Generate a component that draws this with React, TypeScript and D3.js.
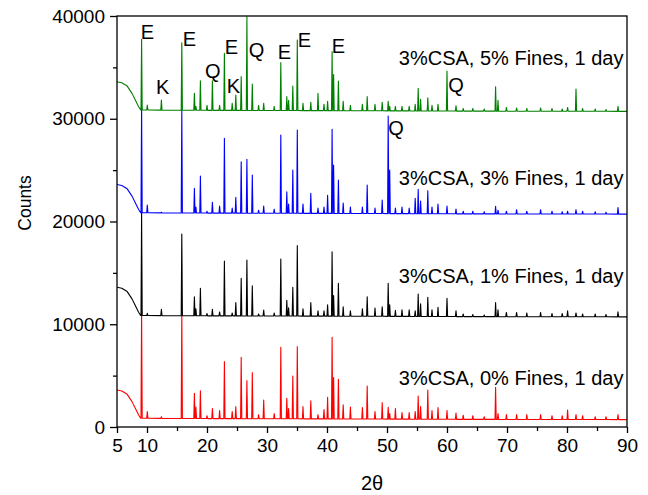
import React, { useEffect, useRef } from 'react'
import * as d3 from 'd3'

// 2θ positions of the peaks, shared by all four patterns
const peakTheta = [
    9.1, 10.05, 12.4, 15.8, 17.9, 18.15, 18.9, 20.0, 20.9, 22.1, 22.9, 24.2, 24.8, 25.7, 26.65, 27.55,
    28.6, 29.45, 31.2, 32.3, 33.3, 33.6, 34.3, 35.05, 36.0, 37.3, 38.5, 39.5, 40.1, 40.85, 41.1, 41.9,
    42.7, 43.9, 45.9, 46.7, 48.0, 49.2, 50.2, 50.45, 51.4, 52.5, 53.7, 54.7, 55.2, 55.6, 56.8, 57.5,
    58.5, 60.0, 61.5, 62.7, 64.3, 66.2, 68.1, 68.5, 69.9, 71.6, 73.3, 75.6, 77.5, 79.2, 80.1, 81.5,
    82.6, 84.7, 86.5, 88.5,
]

// peak tops (counts before the vertical offset)
const fines0 = [
    11300, 1500, 1000, 11300, 3280, 1930, 3530, 1100, 1800, 1600, 6360, 1500, 1980, 6780, 4510, 5290,
    1200, 2630, 1300, 7760, 2790, 1800, 4960, 7820, 1980, 2560, 1200, 1700, 2890, 8730, 4820, 4640,
    2170, 1950, 1900, 3990, 1500, 2370, 1920, 1300, 1800, 1400, 1400, 1500, 3020, 2000, 3600, 1600,
    1900, 1600, 1350, 1150, 1100, 1000, 3860, 1300, 1200, 1200, 1200, 1200, 1100, 1100, 1650, 1200,
    1100, 1000, 1000, 1200,
]
const fines1 = [
    10860, 1060, 1450, 8780, 2680, 1500, 3500, 1050, 1450, 1200, 6160, 1100, 2100, 4470, 6250, 3750,
    1000, 1390, 1100, 6350, 2340, 1600, 3600, 7650, 1500, 2100, 1300, 1300, 1900, 7060, 2800, 3980,
    1700, 1300, 1500, 2680, 1580, 1700, 3980, 1900, 1350, 1400, 1400, 1300, 2940, 2000, 2620, 1400,
    1650, 2520, 1300, 1000, 950, 900, 2100, 1400, 1150, 1150, 1100, 1150, 1050, 1050, 1300, 1100,
    1000, 1000, 950, 1200,
]
const fines3 = [
    11200, 1600, 900, 10900, 3230, 1400, 4430, 1000, 1870, 1500, 8100, 1300, 2350, 5820, 6050, 4530,
    1100, 1500, 1200, 8420, 2900, 1700, 5010, 8900, 1700, 2740, 1300, 1400, 2550, 8970, 5500, 4040,
    1800, 1400, 1400, 3550, 1300, 2090, 10270, 5000, 1300, 1400, 1300, 2250, 3130, 2000, 3000, 1400,
    1700, 1500, 1200, 1000, 1000, 950, 1470, 1100, 1000, 1150, 1000, 1150, 1000, 950, 1000, 1150,
    1000, 950, 900, 1350,
]
const fines5 = [
    7730, 1340, 1820, 7400, 2480, 1200, 3700, 1300, 3700, 1300, 6370, 1500, 2310, 4100, 9930, 3380,
    1300, 1500, 1200, 5460, 2150, 1800, 3190, 7660, 1500, 1600, 2480, 1400, 1700, 6530, 4300, 3670,
    1700, 1300, 1400, 2150, 1400, 1600, 1700, 1200, 1200, 1200, 1200, 1400, 2960, 1900, 2050, 1300,
    1400, 4650, 1250, 1000, 1000, 950, 3120, 1800, 1100, 1050, 1000, 1050, 1000, 950, 1100, 2890,
    1000, 950, 900, 1200,
]

// background: low-angle hump then flat baseline
const bgTheta = [5, 5.8, 6.7, 7.5, 8.05, 8.6, 8.95, 20, 45, 65, 90]
const bgCounts = [3600, 3500, 3180, 2470, 1820, 1170, 850, 820, 780, 740, 720]

const seriesNames = ['3%CSA, 0% Fines, 1 day', '3%CSA, 1% Fines, 1 day', '3%CSA, 3% Fines, 1 day', '3%CSA, 5% Fines, 1 day']
const seriesPeaks = [fines0, fines1, fines3, fines5]
const seriesOffset = [0, 10000, 20000, 30000]
const seriesColor = ['#ff0000', '#000000', '#0000ff', '#008000']
const seriesLabelY = [4090, 13980, 23550, 35230]

// phase markers: letter, 2θ where the letter starts, counts at its baseline
const phaseLetter = ['E', 'K', 'E', 'Q', 'E', 'K', 'Q', 'E', 'E', 'E', 'Q', 'Q']
const phaseTheta = [8.95, 11.5, 15.95, 19.67, 22.95, 23.28, 26.95, 31.78, 35.12, 40.78, 60.22, 50.22]
const phaseCounts = [37730, 32410, 37110, 34010, 36270, 32480, 36040, 35820, 37010, 36370, 32630, 28420]

const xTickLabels = [5, 10, 20, 30, 40, 50, 60, 70, 80, 90]
const yTickLabels = [0, 10000, 20000, 30000, 40000]

export default function App() {
    const svgRef = useRef<SVGSVGElement>(null)

    useEffect(() => {
        const width = 648
        const height = 495
        const left = 117
        const right = 627
        const top = 16
        const bottom = 427
        const font = 'Arial, "Liberation Sans", sans-serif'

        const svg = d3.select(svgRef.current)
        svg.selectAll('*').remove()
        svg.attr('width', width).attr('height', height)

        const x = d3.scaleLinear().domain([5, 90]).range([left, right])
        const y = d3.scaleLinear().domain([0, 40000]).range([bottom, top])
        const bg = d3.scaleLinear().domain(bgTheta).range(bgCounts).clamp(true)

        svg.append('defs')
            .append('clipPath')
            .attr('id', 'plot-clip')
            .append('rect')
            .attr('x', left)
            .attr('y', top)
            .attr('width', right - left)
            .attr('height', bottom - top)

        const line = d3
            .line<[number, number]>()
            .x((d) => x(d[0]))
            .y((d) => y(d[1]))

        const w = 0.1
        const plot = svg.append('g').attr('clip-path', 'url(#plot-clip)')
        seriesPeaks.forEach((tops, s) => {
            const off = seriesOffset[s]
            const pts: [number, number][] = []
            bgTheta.forEach((t, i) => {
                if (t < 9) pts.push([t, bgCounts[i] + off])
            })
            peakTheta.forEach((t, i) => {
                pts.push([t - w, bg(t - w) + off])
                pts.push([t, tops[i] + off])
                pts.push([t + w, bg(t + w) + off])
            })
            pts.push([90, bg(90) + off])
            plot.append('path')
                .attr('d', line(pts))
                .attr('fill', 'none')
                .attr('stroke', seriesColor[s])
                .attr('stroke-width', 1.1)
                .attr('stroke-linejoin', 'round')
        })

        // frame
        svg.append('rect')
            .attr('x', left)
            .attr('y', top)
            .attr('width', right - left)
            .attr('height', bottom - top)
            .attr('fill', 'none')
            .attr('stroke', '#000')
            .attr('stroke-width', 1.3)

        // y axis
        const yMinor = svg.append('g').attr('transform', `translate(${left},0)`)
            .call(d3.axisLeft(y).tickValues(d3.range(5000, 40000, 10000)).tickSize(4).tickSizeOuter(0).tickFormat(() => ''))
        const yAxis = svg.append('g').attr('transform', `translate(${left},0)`)
            .call(d3.axisLeft(y).tickValues(yTickLabels).tickSize(7).tickSizeOuter(0).tickPadding(5).tickFormat(d3.format('d')))
        // x axis
        const xMinor = svg.append('g').attr('transform', `translate(0,${bottom})`)
            .call(d3.axisBottom(x).tickValues(d3.range(15, 90, 10)).tickSize(4).tickSizeOuter(0).tickFormat(() => ''))
        const xAxis = svg.append('g').attr('transform', `translate(0,${bottom})`)
            .call(d3.axisBottom(x).tickValues(xTickLabels).tickSize(6).tickSizeOuter(0).tickPadding(6).tickFormat(d3.format('d')))

        ;[yMinor, yAxis, xMinor, xAxis].forEach((g) => {
            g.select('.domain').remove()
            g.selectAll('line').attr('stroke', '#000').attr('stroke-width', 1.3)
            g.selectAll('text').attr('font-size', 19).attr('font-family', font).attr('fill', '#000')
        })

        svg.append('text')
            .attr('transform', `translate(31,203) rotate(-90)`)
            .attr('text-anchor', 'middle')
            .attr('font-family', font)
            .attr('font-size', 17.5)
            .text('Counts')

        svg.append('text')
            .attr('x', 372)
            .attr('y', 490)
            .attr('text-anchor', 'middle')
            .attr('font-family', font)
            .attr('font-size', 20)
            .text('2θ')

        // series labels
        seriesNames.forEach((name, s) => {
            svg.append('text')
                .attr('x', x(89.4))
                .attr('y', y(seriesLabelY[s]))
                .attr('text-anchor', 'end')
                .attr('font-family', font)
                .attr('font-size', 20)
                .text(name)
        })

        // phase letters
        phaseLetter.forEach((l, i) => {
            svg.append('text')
                .attr('x', x(phaseTheta[i]))
                .attr('y', y(phaseCounts[i]))
                .attr('font-family', font)
                .attr('font-size', 20)
                .text(l)
        })
    }, [])

    return (
        <svg
            ref={svgRef}
            style={{ position: 'absolute', left: 0, top: 0, background: '#fff' }}
        />
    )
}
